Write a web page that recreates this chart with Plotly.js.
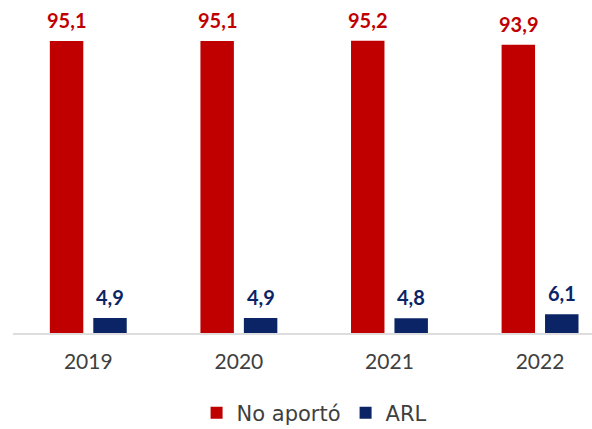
<!DOCTYPE html>
<html>
<head>
<meta charset="utf-8">
<script src="https://cdn.plot.ly/plotly-3.0.1.min.js"></script>
<style>html,body{margin:0;padding:0;background:#fff;}#chart{width:592px;height:429px;}</style>
</head>
<body>
<div id="chart"></div>
<script>
const years = ['2019', '2020', '2021', '2022'];
const noAporto = [95.1, 95.1, 95.2, 93.9];
const arl = [4.9, 4.9, 4.8, 6.1];
const seriesNames = ['No aportó', 'ARL'];
const colors = ['#C00000', '#0B2466'];

const fmt = v => v.toFixed(1).replace('.', ',');

const traces = [
  {type: 'bar', name: seriesNames[0], x: years, y: noAporto, marker: {color: colors[0]}, hoverinfo: 'none'},
  {type: 'bar', name: seriesNames[1], x: years, y: arl, marker: {color: colors[1]}, hoverinfo: 'none'}
];

const shift = 21.75;
const annotations = [];
[noAporto, arl].forEach((series, s) => {
  series.forEach((v, i) => {
    annotations.push({
      x: i, y: v, xref: 'x', yref: 'y',
      text: '<b>' + fmt(v) + '</b>', showarrow: false,
      yanchor: 'bottom', xanchor: 'center',
      xshift: s === 0 ? -shift : shift, yshift: 7,
      font: {family: 'Lato, sans-serif', size: 20, color: colors[s]}
    });
  });
});

const layout = {
  width: 592, height: 429,
  margin: {l: 13, r: 0, t: 10, b: 96, autoexpand: false},
  paper_bgcolor: '#fff', plot_bgcolor: '#fff',
  barmode: 'group', bargap: 0.423, bargroupgap: 0.23,
  showlegend: true,
  legend: {orientation: 'h', x: 0.52, xanchor: 'center', y: -0.248, yanchor: 'middle',
    font: {family: 'DejaVu Sans, sans-serif', size: 21, color: '#404040'}, itemwidth: 30, tracegroupgap: 0},
  xaxis: {type: 'category', range: [-0.5, 3.345], showgrid: false, zeroline: false,
    showline: true, linecolor: '#DDDDDD', linewidth: 2, ticks: '', ticklabelstandoff: 9,
    tickfont: {family: 'Lato, sans-serif', size: 21, color: '#404040'}},
  yaxis: {range: [0, 105.2], visible: false, showgrid: false, zeroline: false},
  annotations: annotations
};

Plotly.newPlot('chart', traces, layout, {displayModeBar: false, staticPlot: true});
</script>
</body>
</html>
